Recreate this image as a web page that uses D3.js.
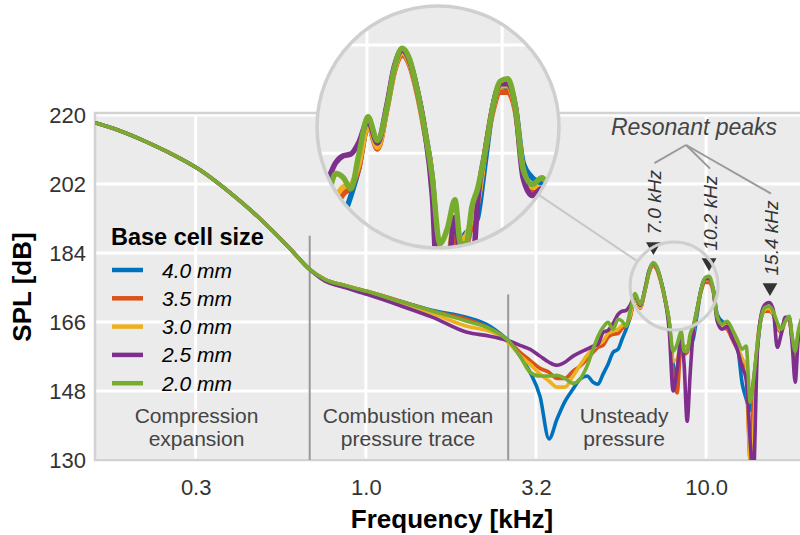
<!DOCTYPE html>
<html><head><meta charset="utf-8">
<script src="https://cdn.jsdelivr.net/npm/d3@7"></script>
<style>
body{margin:0;background:#fff}
svg{display:block}
text{font-family:"Liberation Sans",Arial,Helvetica,sans-serif}
</style>
</head><body>
<svg id="c" width="800" height="535"></svg>
<script>
// ---------------- data ----------------
const freqKHz = [0.161,0.189,0.224,0.265,0.325,0.398,0.488,0.598,0.684,0.757,0.867,
 1.007,1.259,1.574,1.982,2.316,2.478,2.651,2.838,3.037,3.250,
 3.453,3.646,3.848,4.063,4.260,4.467,4.653,4.813,4.978,5.149,
 5.327,5.510,5.661,5.817,5.977,6.183,6.396,6.616,6.798,6.985,
 7.177,7.374,7.576,7.785,7.998,8.218,8.444,8.615,8.793,8.974,
 9.158,9.409,9.667,9.933,10.205,10.49,10.78,11.14,11.53,11.93,
 12.34,12.76,13.11,13.47,13.75,14.13,14.52,14.91,15.32,15.74,
 16.18,16.62,17.08,17.54,17.90,18.27,18.65,19.03];

const lowCommon = [217.9,215.9,213.2,210.1,205.7,199.8,193.0,185.2,179.7,177.1,175.5];
const lowPurple = [217.9,215.9,213.2,210.1,205.7,199.8,193.0,185.2,179.7,176.7,175.0];

const spl40 = lowCommon.concat([174.0,171.4,169.0,167.2,164.9,163.0,160.7,157.1,152.9,146.6,
 135.5,140.7,145.3,148.5,151.1,151.9,150.3,149.8,152.4,155.0,
 158.1,158.9,161.5,164.1,167.2,172.4,169.8,174.5,179.2,181.0,
 179.9,176.6,171.9,166.2,155.0,152.4,160.2,158.9,159.7,160.2,
 161.5,168.0,174.5,177.0,176.8,174.5,168.0,166.2,165.4,162.8,
 160.2,150.0,146.0,143.0,150.0,158.9,167.2,169.3,169.3,168.0,
 165.4,164.1,166.7,166.7,161.5,157.6,162.8,166.2]);

const spl35 = lowCommon.concat([174.0,171.5,168.8,166.7,164.3,162.8,160.7,158.1,156.0,153.9,
 152.9,151.3,151.3,153.2,154.5,156.3,158.1,159.4,159.9,162.0,
 162.8,163.0,164.3,165.1,167.2,172.4,169.6,174.3,178.8,180.7,
 179.5,176.2,171.6,166.0,152.4,147.5,160.2,157.6,158.1,161.0,
 163.3,169.3,174.0,176.3,176.3,174.0,167.0,164.6,164.1,161.5,
 158.9,156.3,152.4,130.0,145.9,160.2,167.2,168.8,168.8,168.0,
 164.6,163.3,166.2,166.7,161.5,156.3,162.8,164.9]);

const spl30 = lowCommon.concat([174.0,171.2,168.2,164.9,163.6,162.5,160.2,157.3,155.0,152.4,
 150.6,149.0,149.0,151.9,154.7,157.3,159.1,160.2,161.0,163.0,
 163.6,164.1,165.1,165.4,167.7,172.4,169.8,174.4,179.0,181.0,
 179.7,176.4,171.8,166.0,155.8,156.3,161.5,158.9,159.4,161.5,
 163.3,169.3,174.3,177.0,177.1,174.3,167.2,165.1,165.0,162.8,
 160.2,156.3,155.0,130.0,135.5,159.7,167.2,169.3,169.6,168.0,
 165.4,163.6,166.7,166.7,161.5,157.6,162.8,165.4]);

const spl25 = lowPurple.concat([173.2,170.3,167.2,163.3,162.3,161.7,161.0,159.9,158.9,157.1,
 155.5,154.7,155.5,157.1,158.1,158.9,159.7,160.2,163.3,163.8,
 165.6,168.0,168.8,169.0,170.3,172.9,170.3,174.8,179.4,181.3,
 180.0,176.6,171.9,164.1,148.0,153.7,161.5,155.0,140.1,152.4,
 163.3,169.3,174.5,177.3,177.3,174.5,166.2,164.1,164.9,161.9,
 158.9,154.2,151.1,135.0,125.0,157.6,168.0,170.6,171.1,169.3,
 159.4,162.8,167.2,167.2,160.2,150.3,161.5,164.1]);

const spl20 = lowCommon.concat([174.0,171.4,168.8,166.2,164.3,162.8,160.7,157.1,152.9,151.9,
 151.9,152.1,151.3,150.0,151.1,154.5,158.9,162.3,164.6,165.9,
 164.1,166.7,166.2,164.9,168.8,173.4,170.6,174.5,179.2,181.5,
 180.2,176.6,171.9,166.2,158.4,160.2,163.6,158.4,158.4,162.8,
 164.9,169.3,174.5,177.6,177.9,174.5,167.2,165.4,166.2,164.1,
 161.5,158.9,159.7,145.1,150.3,159.7,167.2,169.8,170.1,168.8,
 165.9,164.1,166.2,167.5,162.3,158.4,163.6,166.7]);

const seriesNames = ["4.0 mm","3.5 mm","3.0 mm","2.5 mm","2.0 mm"];
const seriesValues = [spl40, spl35, spl30, spl25, spl20];
const seriesColors = ["#0072BD","#D95319","#EDB120","#7E2F8E","#77AC30"];

const xTicks = [0.3162, 1.0, 3.162, 10.0];
const xTickLabels = ["0.3","1.0","3.2","10.0"];
const yTicks = [130,148,166,184,202,220];

const dividerKHz = [0.684, 2.62];
const dividerTopDB = [188.5, 173.2];
const regionKHz = [0.318, 1.33, 5.74];
const regionLines = [["Compression","expansion"],["Combustion mean","pressure trace"],["Unsteady","pressure"]];

const peakKHz = [7.0, 10.2, 15.4];
const peakMarkerDB = [185.7, 181.5, 175.0];
const peakLabels = ["7.0 kHz","10.2 kHz","15.4 kHz"];

const zoomCenterKHz = 8.05, zoomCenterDB = 175.4;
const insetKHz = [5.15, 12.26];
const insetDB = [157.9, 186.5];
const insetGridKHz = [6.16, 10.0];
const insetGridDB = [181.9, 169.1];

// ---------------- layout ----------------
const svg = d3.select("#c");
const P = {l:95, r:801, t:113, b:460};
const x = d3.scaleLog().domain([0.16, 19.0]).range([P.l, P.r]);
const y = d3.scaleLinear().domain([130, 220]).range([460, 115]);

const defs = svg.append("defs");
defs.append("clipPath").attr("id","plotclip").append("rect")
  .attr("x",P.l).attr("y",P.t).attr("width",P.r-P.l).attr("height",P.b-P.t);

svg.append("rect").attr("x",P.l).attr("y",P.t).attr("width",P.r-P.l).attr("height",P.b-P.t)
  .attr("fill","#EBEBEB");

// grid
svg.append("g").selectAll("line").data(yTicks).join("line")
  .attr("x1",P.l).attr("x2",P.r).attr("y1",d=>y(d)).attr("y2",d=>y(d))
  .attr("stroke","#fff").attr("stroke-width",3);
svg.append("g").selectAll("line").data(xTicks).join("line")
  .attr("x1",d=>x(d)).attr("x2",d=>x(d)).attr("y1",P.t).attr("y2",P.b)
  .attr("stroke","#fff").attr("stroke-width",3);

// frame
svg.append("rect").attr("x",P.l).attr("y",P.t).attr("width",P.r-P.l+5).attr("height",P.b-P.t)
  .attr("fill","none").attr("stroke","#d2d2d2").attr("stroke-width",2.5);

// axes
const yAxis = svg.append("g").attr("transform",`translate(${P.l},0)`)
  .call(d3.axisLeft(y).tickValues(yTicks).tickSize(0).tickPadding(9).tickFormat(d3.format("d")));
const xAxis = svg.append("g").attr("transform",`translate(0,${P.b})`)
  .call(d3.axisBottom(x).tickValues(xTicks).tickSize(0).tickPadding(19)
    .tickFormat((d,i)=>xTickLabels[i]));
[yAxis,xAxis].forEach(g=>{
  g.select(".domain").remove();
  g.selectAll("text").attr("font-size",22).attr("fill","#333")
    .style("font-family","'Liberation Sans',Arial,sans-serif");
});

// dividers
svg.append("g").selectAll("line").data(dividerKHz).join("line")
  .attr("x1",d=>x(d)).attr("x2",d=>x(d))
  .attr("y1",(d,i)=>y(dividerTopDB[i])).attr("y2",P.b)
  .attr("stroke","#999").attr("stroke-width",2);

// region labels
regionKHz.forEach((f,i)=>{
  const t = svg.append("text").attr("text-anchor","middle").attr("font-size",21).attr("fill","#444");
  regionLines[i].forEach((s,j)=>{
    t.append("tspan").attr("x",x(f)).attr("y",423+j*22.5).text(s);
  });
});

// curves
const line = d3.line().curve(d3.curveMonotoneX);
const gl = svg.append("g").attr("clip-path","url(#plotclip)");
seriesValues.forEach((vals,k)=>{
  gl.append("path")
    .attr("d", line(freqKHz.map((f,i)=>[x(f), y(vals[i])])))
    .attr("fill","none").attr("stroke",seriesColors[k]).attr("stroke-width",3.6)
    .attr("stroke-linejoin","round").attr("stroke-linecap","round");
});

// legend
svg.append("text").attr("x",111).attr("y",245).attr("font-size",23.5).attr("font-weight","bold")
  .attr("fill","#000").text("Base cell size");
seriesNames.forEach((n,i)=>{
  const cy = 270 + i*28.3;
  svg.append("line").attr("x1",112).attr("x2",143).attr("y1",cy).attr("y2",cy)
    .attr("stroke",seriesColors[i]).attr("stroke-width",4.5);
  svg.append("text").attr("x",162).attr("y",cy+7.5).attr("font-size",21)
    .attr("font-style","italic").attr("fill","#000").text(n);
});

// peak markers
const tri = d3.symbol().type(d3.symbolTriangle).size(95);
const labelTops = [];
peakKHz.forEach((f,i)=>{
  const px = x(f), py = y(peakMarkerDB[i]);
  svg.append("path").attr("d",tri()).attr("transform",`translate(${px},${py}) rotate(180)`)
    .attr("fill","#333");
  const t = svg.append("text").attr("transform",`translate(${px+8},${py-12}) rotate(-90)`)
    .attr("font-size",19).attr("font-style","italic").attr("fill","#333").text(peakLabels[i]);
  labelTops.push([px+1, py-12-t.node().getComputedTextLength()-7]);
});
svg.append("text").attr("x",694).attr("y",135).attr("text-anchor","middle")
  .attr("font-size",23).attr("font-style","italic").attr("fill","#444").text("Resonant peaks");
labelTops.forEach(p=>{
  svg.append("line").attr("x1",686).attr("y1",145).attr("x2",p[0]).attr("y2",p[1])
    .attr("stroke","#999").attr("stroke-width",2);
});

// zoom circles
const sc = {x:x(zoomCenterKHz), y:y(zoomCenterDB), r:44};
const bc = {x:438, y:127, r:121};
const dx = sc.x-bc.x, dy = sc.y-bc.y, dl = Math.hypot(dx,dy);
svg.append("line")
  .attr("x1",bc.x+dx/dl*bc.r).attr("y1",bc.y+dy/dl*bc.r)
  .attr("x2",sc.x-dx/dl*sc.r).attr("y2",sc.y-dy/dl*sc.r)
  .attr("stroke","#c8c8c8").attr("stroke-width",2);
svg.append("circle").attr("cx",sc.x).attr("cy",sc.y).attr("r",sc.r)
  .attr("fill","none").attr("stroke","#cfcfcf").attr("stroke-width",3);

// inset
defs.append("clipPath").attr("id","insetclip").append("circle")
  .attr("cx",bc.x).attr("cy",bc.y).attr("r",bc.r);
const ix = d3.scaleLog().domain(insetKHz).range([bc.x-bc.r, bc.x+bc.r]);
const iy = d3.scaleLinear().domain(insetDB).range([bc.y+bc.r, bc.y-bc.r]);
svg.append("circle").attr("cx",bc.x).attr("cy",bc.y).attr("r",bc.r).attr("fill","#EBEBEB");
const gi = svg.append("g").attr("clip-path","url(#insetclip)");
gi.selectAll("line.h").data(insetGridDB).join("line")
  .attr("x1",bc.x-bc.r).attr("x2",bc.x+bc.r).attr("y1",d=>iy(d)).attr("y2",d=>iy(d))
  .attr("stroke","#fff").attr("stroke-width",3);
gi.selectAll("line.v").data(insetGridKHz).join("line")
  .attr("y1",bc.y-bc.r).attr("y2",bc.y+bc.r).attr("x1",d=>ix(d)).attr("x2",d=>ix(d))
  .attr("stroke","#fff").attr("stroke-width",3);
seriesValues.forEach((vals,k)=>{
  gi.append("path")
    .attr("d", line(freqKHz.map((f,i)=>[ix(f), iy(vals[i])])))
    .attr("fill","none").attr("stroke",seriesColors[k]).attr("stroke-width",5.5)
    .attr("stroke-linejoin","round").attr("stroke-linecap","round");
});
svg.append("circle").attr("cx",bc.x).attr("cy",bc.y).attr("r",bc.r)
  .attr("fill","none").attr("stroke","#cfcfcf").attr("stroke-width",3.5);

// axis titles
svg.append("text").attr("transform","translate(31,287) rotate(-90)").attr("text-anchor","middle")
  .attr("font-size",26).attr("font-weight","bold").attr("fill","#000").text("SPL [dB]");
svg.append("text").attr("x",452).attr("y",528).attr("text-anchor","middle")
  .attr("font-size",26).attr("font-weight","bold").attr("fill","#000").text("Frequency [kHz]");
</script>
</body></html>
